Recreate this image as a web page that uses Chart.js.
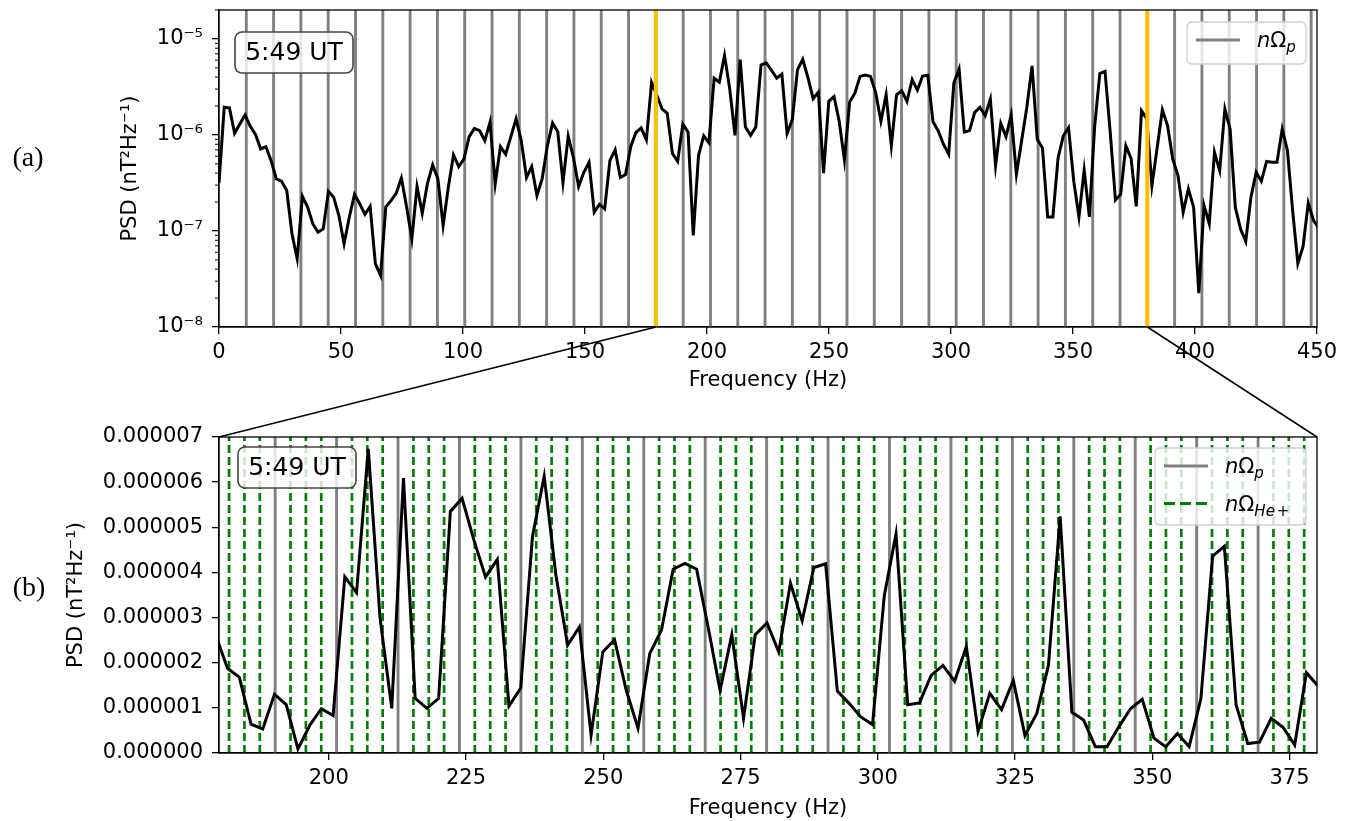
<!DOCTYPE html>
<html>
<head>
<meta charset="utf-8">
<script src="https://cdn.jsdelivr.net/npm/chart.js@4.4.1/dist/chart.umd.min.js"></script>
<style>
html, body { margin: 0; padding: 0; background: #fff; }
#wrap { position: relative; width: 1349px; height: 821px; overflow: hidden; }
#wrap canvas { position: absolute; left: 0; }
.lab { position: absolute; width: 60px; text-align: center; font-family: "Liberation Serif", "DejaVu Serif", serif; font-size: 28px; line-height: 28px; color: #000; }
</style>
</head>
<body>
<div id="wrap">
  <canvas id="top" width="1349" height="400" style="top:0"></canvas>
  <canvas id="bot" width="1349" height="421" style="top:400px"></canvas>
  <canvas id="over" width="1349" height="821" style="top:0;pointer-events:none"></canvas>
  <div class="lab" style="left:-2px;top:143px">(a)</div>
  <div class="lab" style="left:-1px;top:573px">(b)</div>
</div>
<script>
// spectrum bins and gyrofrequencies
const DF = 2.136;        // Hz per bin
const OMEGA_P = 11.19;   // proton gyrofrequency (Hz)
const OMEGA_HE = OMEGA_P / 4;

// PSD (nT^2/Hz), bins 0-83
const psdLow = [
  3.15e-7, 1.94e-6, 1.91e-6, 1.04e-6, 1.30e-6, 1.61e-6, 1.23e-6, 1.01e-6, 7.15e-7, 7.55e-7,
  5.4e-7, 3.49e-7, 3.3e-7, 2.64e-7, 9.35e-8, 5.14e-8, 2.29e-7, 1.77e-7, 1.19e-7, 9.7e-8,
  1.05e-7, 2.58e-7, 2.25e-7, 1.45e-7, 7.36e-8, 1.39e-7, 2.4e-7, 1.92e-7, 1.49e-7, 1.8e-7,
  4.56e-8, 3.44e-8, 1.77e-7, 2.07e-7, 2.47e-7, 3.57e-7, 1.77e-7, 8.3e-8, 2.9e-7, 1.53e-7,
  3.14e-7, 4.87e-7, 3.49e-7, 1.14e-7, 2.85e-7, 6.2e-7, 4.68e-7, 5.62e-7, 9.6e-7, 1.17e-6,
  1.11e-6, 8.7e-7, 1.35e-6, 3.1e-7, 7.55e-7, 6.3e-7, 9.6e-7, 1.47e-6, 8.7e-7, 3.6e-7,
  4.68e-7, 2.34e-7, 3.49e-7, 7.7e-7, 1.33e-6, 1.08e-6, 3.2e-7, 9.7e-7, 5.85e-7, 2.9e-7,
  4.08e-7, 5.19e-7, 1.57e-7, 1.89e-7, 1.70e-7, 5.4e-7, 7.0e-7, 3.6e-7, 3.86e-7, 7.55e-7,
  1.06e-6, 1.18e-6, 8.9e-7, 3.52e-6
];
// bins 84-178
const psdMid = [
  2.6e-6, 1.87e-6, 1.68e-6, 0.64e-6, 0.53e-6, 1.30e-6, 1.07e-6, 0.09e-6, 0.61e-6, 0.98e-6,
  0.83e-6, 3.90e-6, 3.55e-6, 6.74e-6, 3.0e-6, 0.99e-6, 6.09e-6, 1.21e-6, 0.99e-6, 1.21e-6,
  5.35e-6, 5.64e-6, 4.72e-6, 3.90e-6, 4.29e-6, 1.04e-6, 1.44e-6, 4.79e-6, 6.13e-6, 3.94e-6,
  2.39e-6, 2.79e-6, 0.40e-6, 2.24e-6, 2.51e-6, 1.39e-6, 0.55e-6, 2.20e-6, 2.72e-6, 4.07e-6,
  4.20e-6, 4.07e-6, 2.76e-6, 1.39e-6, 2.62e-6, 0.77e-6, 2.62e-6, 2.88e-6, 2.24e-6, 3.76e-6,
  2.93e-6, 4.11e-6, 4.19e-6, 1.37e-6, 1.10e-6, 0.80e-6, 0.63e-6, 3.48e-6, 4.85e-6, 1.07e-6,
  1.11e-6, 1.72e-6, 1.94e-6, 1.59e-6, 2.36e-6, 0.48e-6, 1.32e-6, 0.96e-6, 1.61e-6, 0.39e-6,
  0.87e-6, 1.94e-6, 5.24e-6, 0.90e-6, 0.73e-6, 0.14e-6, 0.14e-6, 0.58e-6, 0.98e-6, 1.19e-6,
  0.33e-6, 0.14e-6, 0.43e-6, 0.14e-6, 1.20e-6, 4.36e-6, 4.58e-6, 1.07e-6, 0.21e-6, 0.24e-6,
  0.77e-6, 0.57e-6, 0.18e-6, 1.78e-6, 1.48e-6
];
// bins 179-211
const psdHigh = [
  2.97e-7, 7.3e-7, 1.82e-6, 1.25e-6, 5.6e-7, 3.78e-7, 1.57e-7, 2.75e-7, 1.77e-7, 2.25e-8,
  1.84e-7, 1.19e-7, 6.6e-7, 4.26e-7, 1.86e-6, 1.15e-6, 1.77e-7, 1.05e-7, 7.8e-8, 2.25e-7,
  4.08e-7, 3.3e-7, 5.3e-7, 5.2e-7, 5.2e-7, 1.15e-6, 6.9e-7, 1.63e-7, 4.6e-8, 6.9e-8,
  1.95e-7, 1.29e-7, 1.07e-7
];

const topXTicks = [0, 50, 100, 150, 200, 250, 300, 350, 400, 450];
const topYTicks = [1e-8, 1e-7, 1e-6, 1e-5];
const botXTicks = [200, 225, 250, 275, 300, 325, 350, 375];
const botYTicks = [0, 1e-6, 2e-6, 3e-6, 4e-6, 5e-6, 6e-6, 7e-6];
const zoomBand = [16 * OMEGA_P, 34 * OMEGA_P];

const psd = psdLow.concat(psdMid, psdHigh);
const points = psd.map((v, i) => ({x: i * DF, y: v}));

const protonLines = [];
for (let n = 1; n * OMEGA_P < 460; n++) protonLines.push(n * OMEGA_P);
const heliumLines = [];
for (let m = 1; m * OMEGA_HE < 460; m++) if (m % 4 !== 0) heliumLines.push(m * OMEGA_HE);

Chart.defaults.font.family = '"DejaVu Sans", sans-serif';
Chart.defaults.font.size = 21;
Chart.defaults.color = '#000';

const SUP = {'-': '\u207B', '0': '\u2070', '1': '\u00B9', '2': '\u00B2', '3': '\u00B3', '4': '\u2074',
  '5': '\u2075', '6': '\u2076', '7': '\u2077', '8': '\u2078', '9': '\u2079'};
function sup(n) { return String(n).split('').map(c => SUP[c]).join(''); }

function vlines(chart, values, color, width, dash) {
  const {ctx, chartArea: a, scales: {x}} = chart;
  ctx.save();
  ctx.beginPath();
  ctx.rect(a.left, a.top, a.right - a.left, a.bottom - a.top);
  ctx.clip();
  ctx.strokeStyle = color;
  ctx.lineWidth = width;
  ctx.setLineDash(dash || []);
  values.forEach(v => {
    if (v < x.min || v > x.max) return;
    const px = x.getPixelForValue(v);
    ctx.beginPath();
    ctx.moveTo(px, a.bottom);
    ctx.lineTo(px, a.top);
    ctx.stroke();
  });
  ctx.restore();
}

function frame(chart) {
  const {ctx, chartArea: a} = chart;
  ctx.save();
  ctx.strokeStyle = '#000';
  ctx.lineWidth = 1.3;
  ctx.strokeRect(a.left, a.top, a.right - a.left, a.bottom - a.top);
  ctx.restore();
}

function roundRect(ctx, x, y, w, h, r) {
  ctx.beginPath();
  ctx.moveTo(x + r, y);
  ctx.arcTo(x + w, y, x + w, y + h, r);
  ctx.arcTo(x + w, y + h, x, y + h, r);
  ctx.arcTo(x, y + h, x, y, r);
  ctx.arcTo(x, y, x + w, y, r);
  ctx.closePath();
}

function timeBox(chart, dx, dy) {
  const {ctx, chartArea: a} = chart;
  const x = a.left + dx, y = a.top + dy, w = 118, h = 41;
  ctx.save();
  roundRect(ctx, x, y, w, h, 7);
  ctx.fillStyle = 'rgba(255,255,255,0.8)';
  ctx.fill();
  ctx.strokeStyle = '#444';
  ctx.lineWidth = 1.6;
  ctx.stroke();
  ctx.fillStyle = '#000';
  ctx.font = '25px "DejaVu Sans"';
  ctx.textAlign = 'center';
  ctx.textBaseline = 'middle';
  ctx.fillText('5:49 UT', x + w / 2, y + h / 2 + 1);
  ctx.restore();
}

// math-like label: n(italic) Omega(upright) subscript parts
function mathLabel(ctx, x, base, sub) {
  const s = 21;
  let cx = x;
  ctx.font = 'italic ' + s + 'px "DejaVu Sans"';
  ctx.fillText('n', cx, base); cx += ctx.measureText('n').width;
  ctx.font = s + 'px "DejaVu Sans"';
  ctx.fillText('\u03A9', cx, base); cx += ctx.measureText('\u03A9').width;
  sub.forEach(p => {
    ctx.font = (p.it ? 'italic ' : '') + Math.round(s * 0.7) + 'px "DejaVu Sans"';
    cx += p.gap || 0;
    ctx.fillText(p.t, cx, base + 5);
    cx += ctx.measureText(p.t).width;
  });
}

function legendBox(chart, box, items) {
  const {ctx} = chart;
  ctx.save();
  roundRect(ctx, box.x, box.y, box.w, box.h, 5);
  ctx.fillStyle = 'rgba(255,255,255,0.8)';
  ctx.fill();
  ctx.strokeStyle = '#d0d0d0';
  ctx.lineWidth = 1.3;
  ctx.stroke();
  items.forEach((it, k) => {
    const ly = box.y + 18 + k * 37.5;
    ctx.strokeStyle = it.color;
    ctx.lineWidth = 3;
    ctx.setLineDash(it.dash || []);
    ctx.beginPath();
    ctx.moveTo(box.x + 9, ly);
    ctx.lineTo(box.x + 53, ly);
    ctx.stroke();
    ctx.setLineDash([]);
    ctx.fillStyle = '#000';
    ctx.textBaseline = 'alphabetic';
    mathLabel(ctx, box.x + 70, ly + 7, it.sub);
  });
  ctx.restore();
}

const axisGrid = {drawOnChartArea: false, drawTicks: true, tickLength: 7, color: '#000', lineWidth: 1.3};
const axisBorder = {display: true, color: '#000', width: 1.3};

const topChart = new Chart(document.getElementById('top'), {
  type: 'line',
  data: {datasets: [{data: points, borderColor: '#000', borderWidth: 3, pointRadius: 0, tension: 0, fill: false, clip: 0}]},
  options: {
    responsive: false, animation: false, events: [],
    layout: {padding: {left: 118, right: 32, top: 10, bottom: 0}},
    plugins: {legend: {display: false}, tooltip: {enabled: false}},
    scales: {
      x: {
        type: 'linear', min: 0, max: 450,
        afterBuildTicks: s => { s.ticks = topXTicks.map(v => ({value: v})); },
        afterFit: s => { s.height = 73; s.paddingLeft = 0; s.paddingRight = 0; },
        ticks: {padding: 6, maxRotation: 0, autoSkip: false, callback: v => String(v)},
        grid: axisGrid, border: axisBorder,
        title: {display: true, text: 'Frequency (Hz)', padding: {top: 0, bottom: 7}}
      },
      y: {
        type: 'logarithmic', min: 1e-8, max: 2e-5,
        afterBuildTicks: s => { s.ticks = topYTicks.map(v => ({value: v})); },
        afterFit: s => { s.width = 101; s.paddingTop = 0; s.paddingBottom = 0; },
        ticks: {padding: 9, autoSkip: false, callback: v => '10' + sup(Math.round(Math.log10(v)))},
        grid: axisGrid, border: axisBorder,
        title: {display: true, text: 'PSD (nT\u00B2Hz\u207B\u00B9)', padding: {top: 0, bottom: 0}}
      }
    }
  },
  plugins: [{
    id: 'topDeco',
    beforeDatasetsDraw(chart) { vlines(chart, protonLines, '#808080', 2.9); },
    afterDatasetsDraw(chart) { vlines(chart, zoomBand, '#ffbf00', 4); },
    afterDraw(chart) {
      const {ctx, chartArea: a, scales: {y}} = chart;
      ctx.save();
      ctx.strokeStyle = '#000';
      ctx.lineWidth = 1;
      for (let e = -8; e <= -5; e++) {
        for (let m = 2; m <= 9; m++) {
          const v = m * Math.pow(10, e);
          if (v > y.max * 1.0001) continue;
          const py = y.getPixelForValue(v);
          ctx.beginPath();
          ctx.moveTo(a.left - 4, py);
          ctx.lineTo(a.left, py);
          ctx.stroke();
        }
      }
      ctx.restore();
      frame(chart);
      timeBox(chart, 16, 22);
      legendBox(chart, {x: a.right - 130, y: a.top + 12, w: 119, h: 42},
        [{color: '#808080', sub: [{t: 'p', it: true}]}]);
    }
  }]
});

const botChart = new Chart(document.getElementById('bot'), {
  type: 'line',
  data: {datasets: [{data: points, borderColor: '#000', borderWidth: 3, pointRadius: 0, tension: 0, fill: false, clip: 0}]},
  options: {
    responsive: false, animation: false, events: [],
    layout: {padding: {left: 64, right: 32, top: 37, bottom: 0}},
    plugins: {legend: {display: false}, tooltip: {enabled: false}},
    scales: {
      x: {
        type: 'linear', min: 180, max: 380,
        afterBuildTicks: s => { s.ticks = botXTicks.map(v => ({value: v})); },
        afterFit: s => { s.height = 68; s.paddingLeft = 0; s.paddingRight = 0; },
        ticks: {padding: 6, maxRotation: 0, autoSkip: false, callback: v => String(v)},
        grid: axisGrid, border: axisBorder,
        title: {display: true, text: 'Frequency (Hz)', padding: {top: 0, bottom: 0}}
      },
      y: {
        type: 'linear', min: 0, max: 7e-6,
        afterBuildTicks: s => { s.ticks = botYTicks.map(v => ({value: v})); },
        afterFit: s => { s.width = 155; s.paddingTop = 0; s.paddingBottom = 0; },
        ticks: {padding: 9, autoSkip: false, callback: v => v.toFixed(6)},
        grid: axisGrid, border: axisBorder,
        title: {display: true, text: 'PSD (nT\u00B2Hz\u207B\u00B9)', padding: {top: 0, bottom: 0}}
      }
    }
  },
  plugins: [{
    id: 'botDeco',
    beforeDatasetsDraw(chart) {
      vlines(chart, protonLines, '#808080', 2.9);
      vlines(chart, heliumLines, '#008000', 2.7, [8, 4]);
    },
    afterDraw(chart) {
      const a = chart.chartArea;
      frame(chart);
      timeBox(chart, 19, 10);
      legendBox(chart, {x: a.right - 162, y: a.top + 11, w: 151, h: 77}, [
        {color: '#808080', sub: [{t: 'p', it: true}]},
        {color: '#008000', dash: [11, 5], sub: [{t: 'He', it: true}, {t: '+', it: false, gap: 2}]}
      ]);
    }
  }]
});

// zoom connectors between the panels
const ov = document.getElementById('over').getContext('2d');
const ta = topChart.chartArea, ba = botChart.chartArea;
const BOT_OFFSET = 400;
ov.strokeStyle = '#000';
ov.lineWidth = 1.5;
[[zoomBand[0], ba.left], [zoomBand[1], ba.right]].forEach(([f, bx]) => {
  ov.beginPath();
  ov.moveTo(topChart.scales.x.getPixelForValue(f), ta.bottom);
  ov.lineTo(bx, BOT_OFFSET + ba.top);
  ov.stroke();
});
</script>
</body>
</html>
